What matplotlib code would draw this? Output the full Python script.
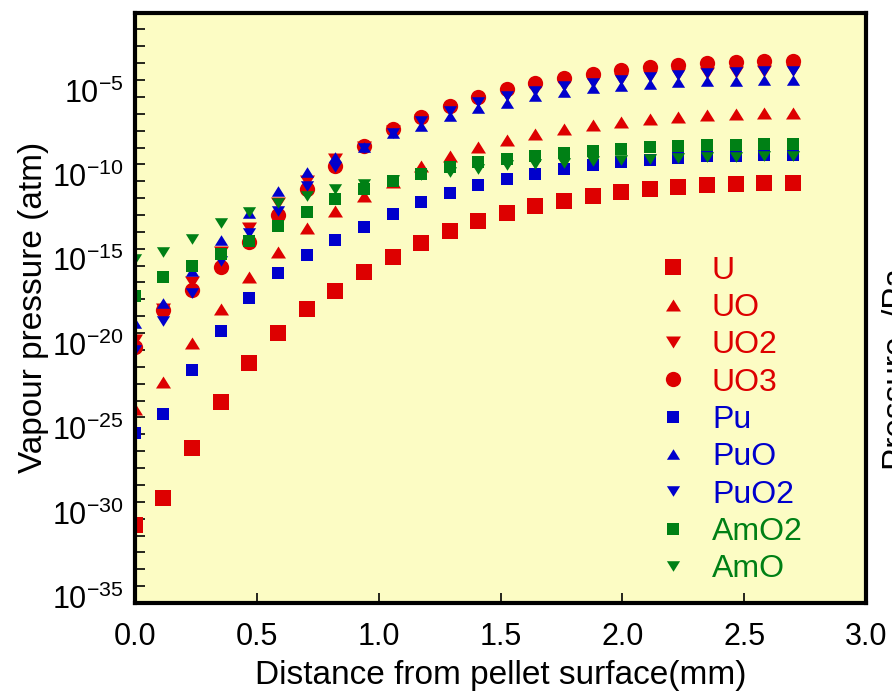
import numpy as np
import matplotlib.pyplot as plt
from matplotlib.transforms import ScaledTranslation

plt.rcParams['font.family'] = ['Liberation Sans', 'DejaVu Sans']
plt.rcParams['mathtext.fontset'] = 'custom'
plt.rcParams['mathtext.rm'] = 'Liberation Sans'
plt.rcParams['mathtext.it'] = 'Liberation Sans:italic'
plt.rcParams['mathtext.bf'] = 'Liberation Sans:bold'

# distance from pellet surface (mm)
x = [0.0, 0.117, 0.235, 0.352, 0.470, 0.587, 0.704, 0.822, 0.939, 1.057, 1.174, 1.291,
     1.409, 1.526, 1.643, 1.761, 1.878, 1.996, 2.113, 2.230, 2.348, 2.465, 2.583, 2.700]

# vapour pressures as log10(atm)
U = [-30.4, -28.8, -25.8, -23.1, -20.8, -19.0, -17.6, -16.5, -15.4, -14.5, -13.65, -12.94,
     -12.37, -11.88, -11.48, -11.19, -10.89, -10.65, -10.46, -10.36, -10.22, -10.16, -10.1, -10.1]
UO = [-23.5, -21.9, -19.6, -17.6, -15.7, -14.2, -12.8, -11.75, -10.85, -10.05, -9.1, -8.5,
      -7.95, -7.53, -7.2, -6.92, -6.66, -6.47, -6.33, -6.17, -6.09, -6.03, -5.97, -5.97]
UO2 = [-19.4, -17.55, -15.95, -14.2, -12.8, -11.3, -10.0, -8.7, -7.95, -7.0, -6.35, -5.75,
       -5.25, -4.9, -4.6, -4.3, -4.1, -3.92, -3.77, -3.65, -3.56, -3.5, -3.45, -3.43]
UO3 = [-19.84, -17.66, -16.45, -15.1, -13.6, -12.0, -10.45, -9.1, -7.9, -6.9, -6.2, -5.54,
       -5.0, -4.53, -4.18, -3.88, -3.64, -3.41, -3.25, -3.11, -2.99, -2.95, -2.89, -2.85]
Pu = [-24.9, -23.78, -21.18, -18.85, -16.91, -15.43, -14.37, -13.48, -12.69, -11.94, -11.25, -10.69,
      -10.2, -9.86, -9.57, -9.27, -9.04, -8.88, -8.72, -8.62, -8.52, -8.52, -8.44, -8.44]
PuO = [-18.41, -17.21, -15.3, -13.5, -11.9, -10.6, -9.45, -8.55, -7.95, -7.15, -6.74, -6.15,
       -5.66, -5.36, -4.95, -4.73, -4.49, -4.35, -4.24, -4.12, -4.08, -4.04, -4.0, -3.98]
PuO2 = [-20.03, -18.27, -16.6, -14.7, -13.05, -11.75, -10.3, -9.15, -8.0, -7.15, -6.41, -5.82,
        -5.32, -4.97, -4.67, -4.37, -4.18, -3.98, -3.82, -3.70, -3.60, -3.54, -3.49, -3.47]
AmO2 = [-16.8, -15.7, -15.0, -14.3, -13.55, -12.65, -11.8, -11.05, -10.45, -10.0, -9.57, -9.17,
        -8.88, -8.68, -8.48, -8.32, -8.19, -8.07, -7.99, -7.93, -7.85, -7.83, -7.79, -7.79]
AmO = [-14.6, -14.2, -13.4, -12.5, -11.8, -11.3, -10.85, -10.45, -10.15, -9.9, -9.65, -9.47,
       -9.27, -9.05, -9.0, -8.92, -8.82, -8.72, -8.68, -8.62, -8.58, -8.54, -8.52, -8.52]

red, blue, green = '#DD0000', '#0000CC', '#008015'
tri_up = [(-1, -0.8), (1, -0.8), (0, 0.8)]
tri_dn = [(-1, 0.8), (1, 0.8), (0, -0.8)]

series = [
    ('U', U, 's', 11, red),
    ('UO', UO, tri_up, 10.8, red),
    ('UO2', UO2, tri_dn, 10.8, red),
    ('UO3', UO3, 'o', 11, red),
    ('Pu', Pu, 's', 8.6, blue),
    ('PuO', PuO, tri_up, 9.5, blue),
    ('PuO2', PuO2, tri_dn, 9.5, blue),
    ('AmO2', AmO2, 's', 8.6, green),
    ('AmO', AmO, tri_dn, 9.5, green),
]

fig = plt.figure(figsize=(8.92, 6.93), dpi=100)
ax = fig.add_axes([0.1513, 0.1299, 0.8196, 0.852])
ax.set_facecolor('#FCFCC4')

for name, vals, mk, ms, col in series:
    ax.plot(x, 10.0 ** np.array(vals), linestyle='none', marker=mk, markersize=ms,
            markerfacecolor=col, markeredgewidth=0, label=name)

ax.set_yscale('log')
ax.set_ylim(1e-35, 1)
ax.set_xlim(0, 3)

ydec = np.arange(-35, 1)
ax.set_yticks(10.0 ** ydec)
ax.set_yticklabels([r'$\mathregular{10^{%d}}$' % d if d % 5 == 0 and d != 0 else '' for d in ydec])
ax.yaxis.set_minor_locator(plt.NullLocator())
xt = [0, 0.5, 1.0, 1.5, 2.0, 2.5, 3.0]
ax.set_xticks(xt)
ax.set_xticklabels(['%.1f' % v for v in xt])

ax.tick_params(direction='in', length=7, width=1.2, labelsize=22, right=False, top=False)
ax.tick_params(axis='y', pad=8)
ax.tick_params(axis='x', pad=14)
for sp in ax.spines.values():
    sp.set_linewidth(3)

# y labels sit a little above their ticks in the original
up = ScaledTranslation(0, 4.5 / 72, fig.dpi_scale_trans)
for lab in ax.get_yticklabels():
    lab.set_transform(lab.get_transform() + up)

ax.set_xlabel('Distance from pellet surface(mm)', fontsize=24)
ax.set_ylabel('Vapour pressure (atm)', fontsize=24)
ax.xaxis.set_label_coords(0.5, -0.097)
ax.yaxis.set_label_coords(-0.118, 0.5)

ax.legend(loc='center left', bbox_to_anchor=(0.714, 0.31), frameon=False, fontsize=23,
          handlelength=1.0, handletextpad=0.72, labelspacing=0.23, borderpad=0,
          borderaxespad=0, labelcolor='markerfacecolor')

# clipped label of the neighbouring panel
fig.text(0.989, 0.322, 'Pressure  /Pa', rotation=90, fontsize=24, ha='left', va='bottom')

fig.savefig('out.png', dpi=100)
